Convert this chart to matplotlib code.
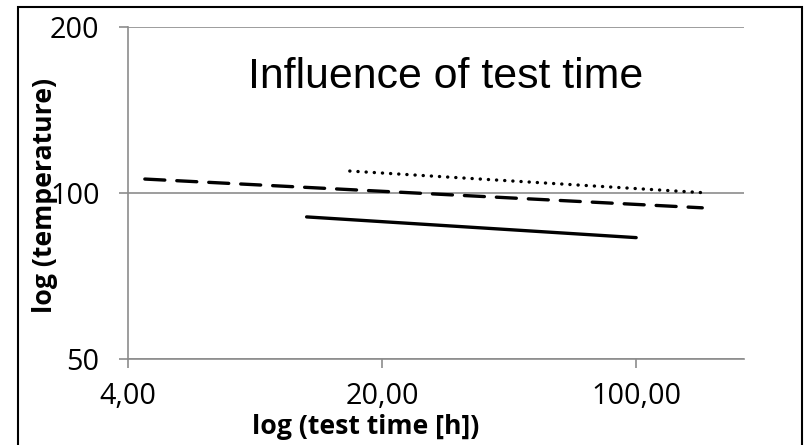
import matplotlib.pyplot as plt
from matplotlib.patches import Rectangle

# (hours, temperature)
solid_t = [12.4, 100.0]
solid_temp = [90.5, 83.0]
dashed_t = [4.45, 152.0]
dashed_temp = [106.0, 94.0]
dotted_t = [16.3, 158.0]
dotted_temp = [109.6, 100.0]

x_ticks = [4, 20, 100]
x_labels = ['4,00', '20,00', '100,00']
y_ticks = [50, 100, 200]
y_labels = ['50', '100', '200']

W, H = 809, 445
fig = plt.figure(figsize=(W / 100, H / 100), dpi=100)
ax = fig.add_axes([128 / W, 1 - 359 / H, (744 - 128) / W, (359 - 27) / H])

ax.set_xscale('log', base=5)
ax.set_yscale('log', base=2)
ax.set_xlim(4, 198)
ax.set_ylim(50, 200)

ax.plot(solid_t, solid_temp, color='black', lw=2.4, solid_capstyle='round')
ax.plot(dashed_t, dashed_temp, color='black', lw=2.4, dashes=(6, 3.6),
        dash_capstyle='round')
ax.plot(dotted_t, dotted_temp, color='black', lw=2.4, dashes=(0.05, 2.4),
        dash_capstyle='round')

grid = '#8c8c8c'
ax.set_xticks(x_ticks)
ax.set_xticklabels(x_labels)
ax.set_yticks(y_ticks)
ax.set_yticklabels(y_labels)
ax.minorticks_off()
ax.tick_params(which='both', direction='out', length=6.5, width=1.2, color=grid,
               labelsize=20.7)
ax.tick_params(axis='x', pad=10)
ax.tick_params(axis='y', pad=14)
for lab in ax.get_xticklabels() + ax.get_yticklabels():
    lab.set_fontfamily('Open Sans')

for s in ['top', 'right']:
    ax.spines[s].set_visible(False)
for s in ['left', 'bottom']:
    ax.spines[s].set_color(grid)
    ax.spines[s].set_linewidth(1.2)
ax.yaxis.grid(True, color=grid, lw=1.2)
ax.set_axisbelow(True)

fig.text(446 / W, 1 - 77 / H, 'Influence of test time',
         ha='center', va='center', fontsize=30.8, family='Liberation Sans')

fig.text(366 / W, 1 - 427 / H, 'log (test time [h])', ha='center', va='center',
         fontsize=19.2, fontweight='bold', family='Open Sans')
fig.text(45 / W, 1 - 195 / H, 'log (temperature)', ha='center', va='center',
         rotation=90, fontsize=19.2, fontweight='bold', family='Open Sans')

fig.patches.append(Rectangle((18 / W, -0.05), (802 - 18) / W, 1.05 - 7 / H,
                             transform=fig.transFigure, fill=False,
                             edgecolor='black', lw=1.5))

plt.savefig('out.png', dpi=100)
